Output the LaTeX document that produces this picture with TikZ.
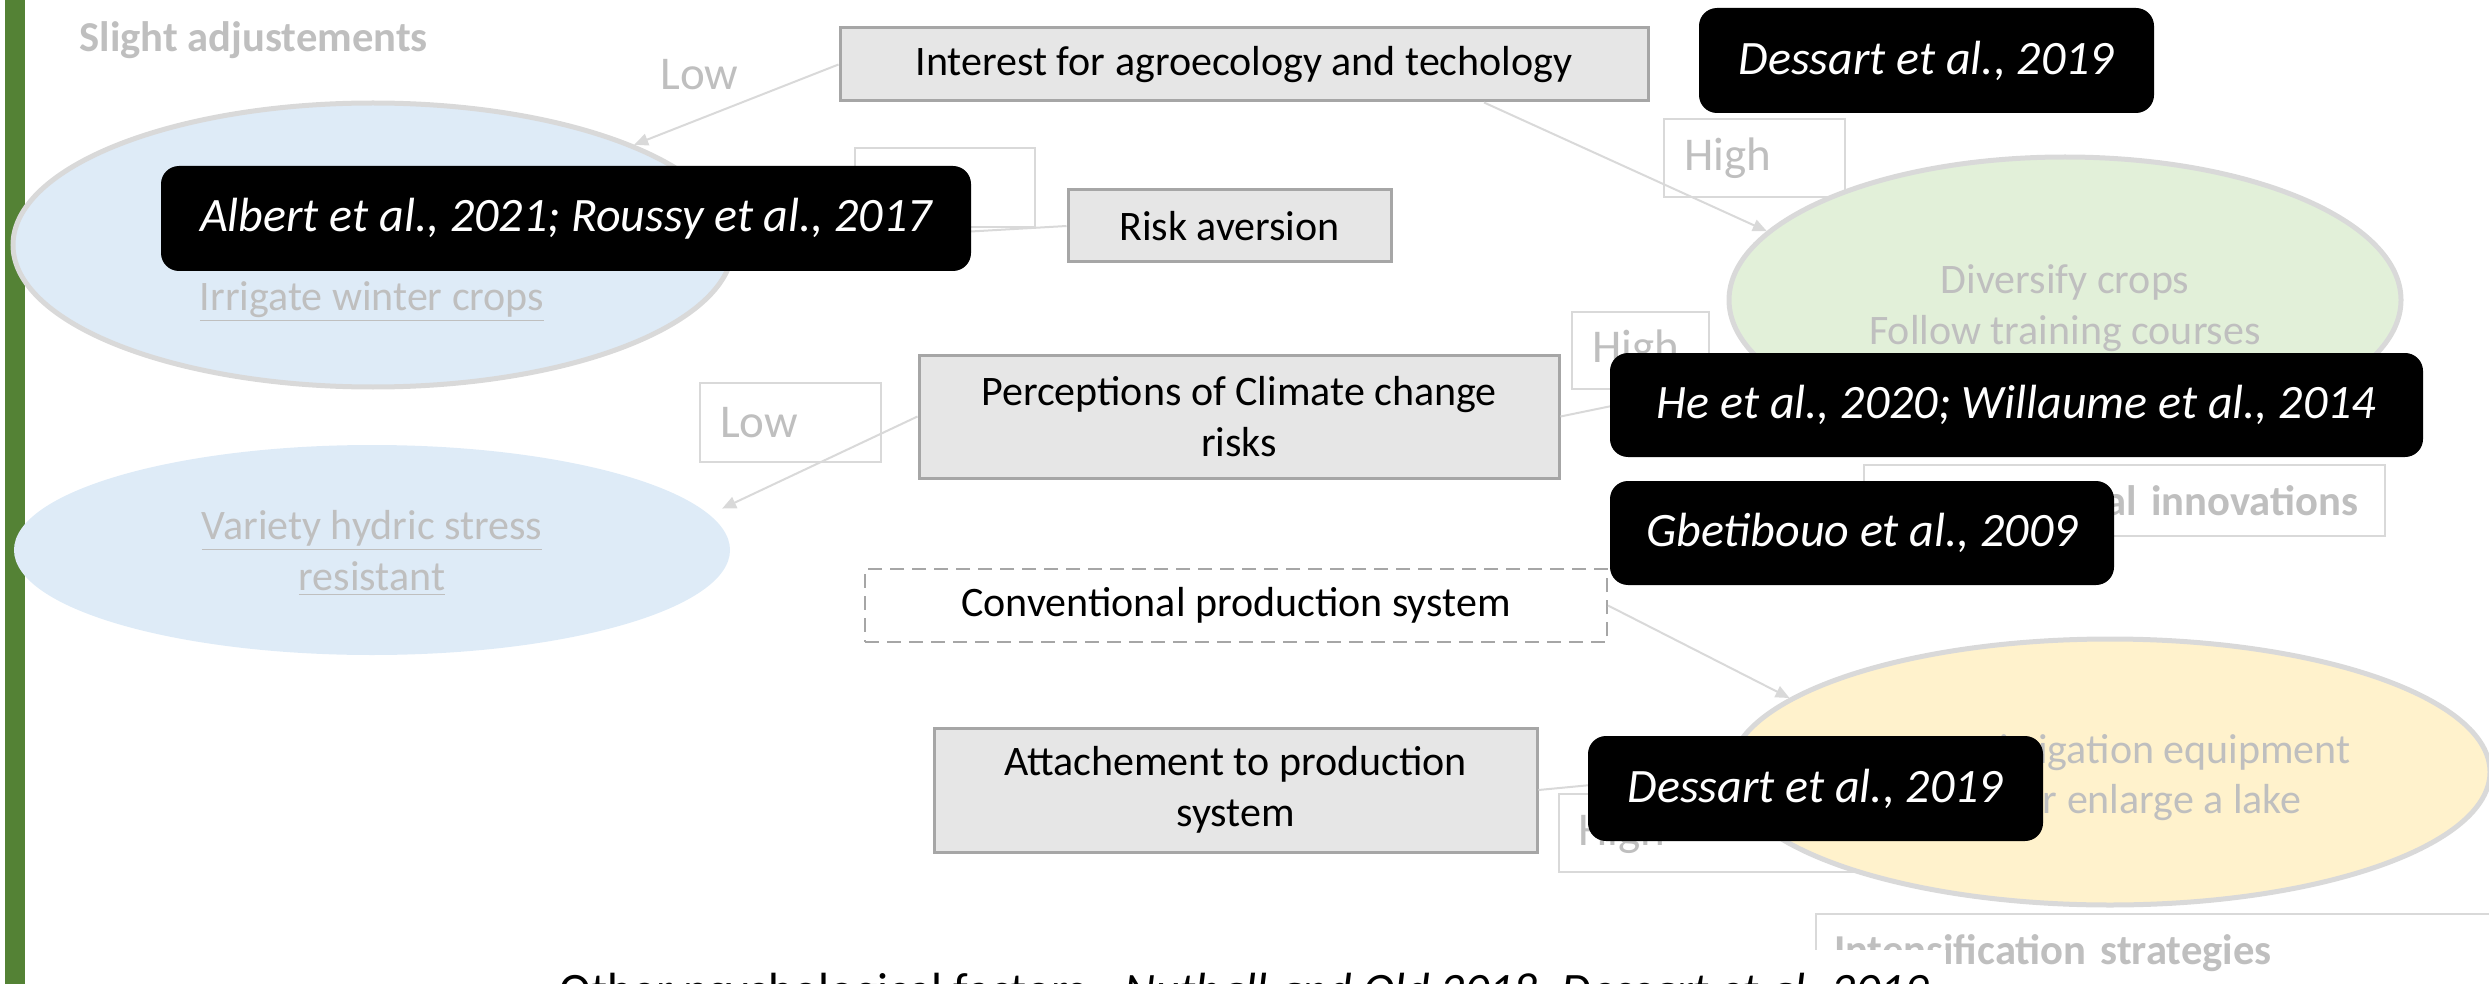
\documentclass[tikz,border=0pt]{standalone}
\usepackage{fontspec}
\setmainfont{Carlito}
\usetikzlibrary{arrows.meta,shapes.geometric}
\definecolor{barGreen}{HTML}{548235}
\definecolor{lightTxt}{HTML}{BFBFBF}
\definecolor{lineGray}{HTML}{D9D9D9}
\definecolor{boxFill}{HTML}{E6E6E6}
\definecolor{boxLine}{HTML}{A6A6A6}
\definecolor{blueFill}{HTML}{DEEBF7}
\definecolor{greenFill}{HTML}{E2F0D9}
\definecolor{yellowFill}{HTML}{FFF2CC}
\newcommand{\szbox}{\fontsize{21pt}{25.5pt}\selectfont}
\newcommand{\sznote}{\fontsize{24pt}{28pt}\selectfont}
\newcommand{\szcite}{\fontsize{24pt}{28pt}\selectfont\itshape}
\newcommand{\szlab}{\fontsize{23.5pt}{27pt}\selectfont}
\newcommand{\szcat}{\fontsize{21.3pt}{25pt}\selectfont\bfseries}
\begin{document}
\begin{tikzpicture}[x=0.5pt,y=-0.5pt,
  graybox/.style={draw=boxLine, fill=boxFill, line width=1.5pt, font=\szbox, align=center, inner sep=0pt},
  dashbox/.style={draw=boxLine, fill=white, line width=1pt, dash pattern=on 7pt off 4pt, font=\szbox, align=center, inner sep=0pt},
  citebox/.style={fill=black, rounded corners=9pt, text=white, font=\szcite, inner sep=0pt},
  lblbox/.style={draw=lineGray, fill=white, line width=1pt, text=lightTxt, font=\szlab, align=left, inner ysep=0pt},
  catbox/.style={draw=lineGray, fill=white, line width=1pt, text=lightTxt, font=\szcat, inner ysep=0pt, text depth=0pt},
  lbltext/.style={text=lightTxt, inner sep=0pt},
  oval/.style={ellipse, inner sep=0pt},
  ovaltext/.style={text=lightTxt, inner sep=0pt, font=\szbox, align=center},
  conn/.style={draw=lineGray, line width=1pt, -{Triangle[length=7pt,width=6pt]}}
]
\useasboundingbox (0,0) rectangle (2489,984);
\fill[barGreen] (5,0) rectangle (25,984);

% category and level labels
\node[lbltext, font=\szcat, anchor=base west] (slight) at (79,52) {Slight adjustements};
\node[lbltext, font=\szlab, anchor=base west] (lowA) at (660,90) {Low};
\node[lblbox, minimum width=90.5pt, minimum height=39pt, inner xsep=10pt, text width=70.5pt] (highA) at (1754.5,158) {High};
\node[lblbox, minimum width=90pt, minimum height=39.5pt] (emptyA) at (945,187.5) {};
\node[lblbox, minimum width=68.5pt, minimum height=38.5pt, inner xsep=10pt, text width=48.5pt] (highB) at (1640.5,350.5) {High};
\node[lblbox, minimum width=90.5pt, minimum height=39.5pt, inner xsep=10pt, text width=70.5pt] (lowB) at (790.5,422.5) {Low};
\node[catbox, minimum width=260.5pt, minimum height=35.5pt, inner xsep=13.5pt, text width=233.5pt, align=right] (techno) at (2124.5,500.5) {Technological innovations};
\node[lblbox, minimum width=179.5pt, minimum height=39pt, inner xsep=9.5pt, text width=160.5pt] (highC) at (1738.5,833) {High};
\node[catbox, minimum width=372pt, minimum height=35.5pt, inner xsep=9pt, text width=354pt, align=left] (intens) at (2188,949.5) {Intensification strategies};

% strategy ellipses
\node[oval, draw=lineGray, line width=2.5pt, fill=blueFill, minimum width=360pt, minimum height=142pt] (irrigate) at (373,245) {};
\node[ovaltext] (irrigateTxt) at (372,302) {\underline{Irrigate winter crops}};
\node[oval, fill=blueFill, minimum width=358pt, minimum height=105pt] (variety) at (372,550) {};
\node[ovaltext] (varietyTxt) at (372,553) {\underline{Variety hydric stress}\\\underline{resistant}};
\node[oval, draw=lineGray, line width=2.5pt, fill=greenFill, minimum width=336pt, minimum height=143pt] (diversify) at (2065,300) {};
\node[ovaltext] (diversifyTxt) at (2065,308) {Diversify crops\\Follow training courses};
\node[oval, draw=lineGray, line width=2.5pt, fill=yellowFill, minimum width=380pt, minimum height=133pt] (yellow) at (2110,772) {};
\node[ovaltext, anchor=base east] (yellowA) at (2351,763) {Buy irrigation equipment};
\node[ovaltext, anchor=base east] (yellowB) at (2302,813) {or enlarge a lake};

% factor boxes
\node[graybox, minimum width=404pt, minimum height=36.5pt] (interest) at (1244,64.5) {Interest for agroecology and techology};
\node[graybox, minimum width=161.5pt, minimum height=36pt] (risk) at (1229.5,226) {Risk aversion};
\node[graybox, minimum width=320pt, minimum height=61.5pt] (perc) at (1239,416.5) {Perceptions of Climate change\\risks};
\node[dashbox, minimum width=371pt, minimum height=36.5pt] (conv) at (1236,605.5) {Conventional production system};
\node[graybox, minimum width=301.5pt, minimum height=62pt] (att) at (1235.5,790) {Attachement to production\\system};

% connectors
\draw[conn] (interest.west) -- (irrigate.21.7);
\draw[conn] (interest.-9.1) -- (diversify.167.5);
\draw[conn] (risk.west) -- (irrigate.east);
\draw[conn, shorten >=7pt] (perc.west) -- (variety.6.3);
\draw[conn] (perc.east) -- (diversify.-166.1);
\draw[conn] (conv.east) -- (yellow.167.2);
\draw[conn] (att.east) -- (yellow.west);

% references
\node[citebox, minimum width=227.5pt, minimum height=52.5pt] (dessartA) at (1926.5,60.5) {Dessart et al., 2019};
\node[citebox, minimum width=405pt, minimum height=52.5pt] (albert) at (566,218.5) {Albert et al., 2021; Roussy et al., 2017};
\node[citebox, minimum width=406.5pt, minimum height=52pt] (he) at (2016.5,405) {He et al., 2020; Willaume et al., 2014};
\node[citebox, minimum width=252pt, minimum height=52pt] (gbet) at (1862,533) {Gbetibouo et al., 2009};
\node[citebox, minimum width=227.5pt, minimum height=52.5pt] (dessartB) at (1815.5,788.5) {Dessart et al., 2019};

% bottom note
\node[anchor=base west, fill=white, inner xsep=8.5pt, inner ysep=11.5pt, font=\sznote] (other) at (542,1006) {Other psychological factors : \textit{Nuthall and Old 2018; Dessart et al. 2019}};
\end{tikzpicture}
\end{document}
